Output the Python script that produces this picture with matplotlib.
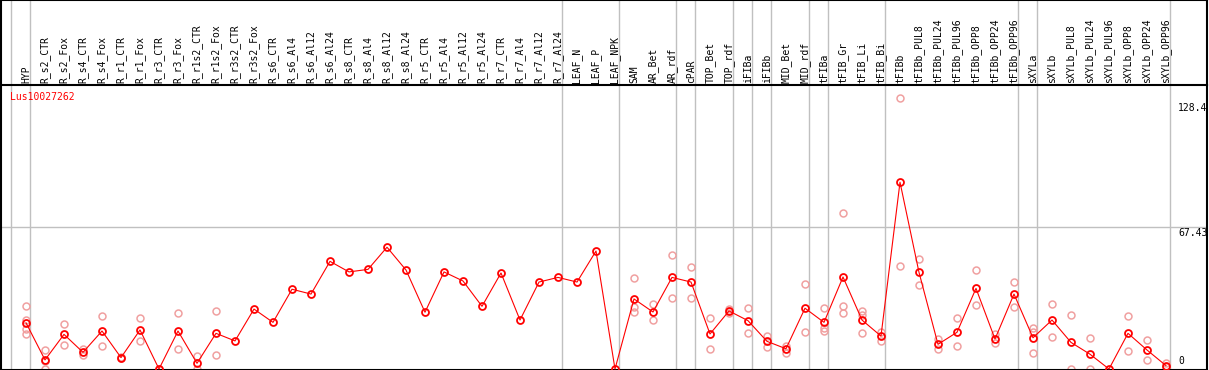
import matplotlib
matplotlib.use("Agg")
import matplotlib.pyplot as plt
import matplotlib.transforms as mtransforms

gene = "Lus10027262"

samples = ["HYP", "R_s2_CTR", "R_s2_Fox", "R_s4_CTR", "R_s4_Fox", "R_r1_CTR", "R_r1_Fox",
           "R_r3_CTR", "R_r3_Fox", "R_r1s2_CTR", "R_r1s2_Fox", "R_r3s2_CTR", "R_r3s2_Fox",
           "R_s6_CTR", "R_s6_Al4", "R_s6_Al12", "R_s6_Al24", "R_s8_CTR", "R_s8_Al4",
           "R_s8_Al12", "R_s8_Al24", "R_r5_CTR", "R_r5_Al4", "R_r5_Al12", "R_r5_Al24",
           "R_r7_CTR", "R_r7_Al4", "R_r7_Al12", "R_r7_Al24", "LEAF_N", "LEAF_P", "LEAF_NPK",
           "SAM", "AR_Bet", "AR_rdf", "cPAR", "TOP_Bet", "TOP_rdf", "iFIBa", "iFIBb",
           "MID_Bet", "MID_rdf", "tFIBa", "tFIB_Gr", "tFIB_Li", "tFIB_Bi", "tFIBb",
           "tFIBb_PUL8", "tFIBb_PUL24", "tFIBb_PUL96", "tFIBb_OPP8", "tFIBb_OPP24",
           "tFIBb_OPP96", "sXYLa", "sXYLb", "sXYLb_PUL8", "sXYLb_PUL24", "sXYLb_PUL96",
           "sXYLb_OPP8", "sXYLb_OPP24", "sXYLb_OPP96"]

means = [21.9, 4.3, 16.4, 7.9, 18.0, 5.4, 18.5, 0.0, 18.0, 2.7, 16.9, 13.3, 28.4,
         22.1, 37.8, 35.5, 51.0, 46.0, 47.2, 57.7, 46.9, 26.9, 46.0, 41.7, 29.7,
         45.5, 23.2, 41.2, 43.4, 41.2, 55.9, 0.0,
         33.2, 27.0, 43.4, 41.2, 16.6, 27.5, 22.9, 13.1, 9.6, 28.8, 22.1, 43.6,
         23.2, 15.6, 88.5, 45.8, 11.7, 17.4, 38.2, 14.2, 35.5, 14.8, 23.2, 12.6,
         7.0, 0.0, 16.9, 9.0, 1.6]

replicates = [[29.9, 23.0, 18.8, 16.6], [9.0, 0.0, 4.0], [21.3, 11.2], [9.3, 6.6],
              [25.0, 10.8], [5.1, 5.8], [24.0, 13.1], [0.0], [26.4, 9.3], [6.2, 0.0],
              [27.5, 6.6], [], [], [], [], [], [], [], [], [], [], [], [], [], [],
              [], [], [], [], [], [], [],
              [43.0, 29.2, 26.9], [30.8, 23.2], [54.0, 33.5], [48.3, 33.5], [24.2, 9.6],
              [28.4, 26.4], [28.8, 16.9], [15.6, 10.6], [11.0, 7.7], [40.1, 17.4],
              [28.8, 19.3, 18.0], [73.9, 29.8, 26.7], [27.6, 25.6, 16.9], [17.7, 13.4],
              [128.4, 48.8], [52.0, 39.8], [14.1, 9.3], [24.0, 10.9], [46.8, 30.2],
              [16.6, 12.2], [41.1, 29.2], [19.3, 7.4, 17.5], [30.8, 15.2], [25.4, 0.0],
              [14.7, 0.0], [], [25.0, 8.5], [13.7, 4.3], [3.0, 0.8]]

# last sample index of each group (vertical separators)
group_ends = [-1, 0, 28, 31, 34, 35, 37, 38, 39, 41, 42, 45, 52, 53, 60]
ytick_vals = [128.4, 67.43, 0]
ytick_labels = ["128.4", "67.43", "0"]

W, H = 1209, 370
fig = plt.figure(figsize=(W / 100, H / 100), dpi=100)

# pixel layout
left_px, right_px = 1, 1207
head_px = 85
x0_px, step_px = 26, 19
zero_px = 369
scale = 2.1106  # px per unit

def fx(p):
    return p / W

def fy(p):
    return 1 - p / H

xlim = ((left_px - x0_px) / step_px, (right_px - x0_px) / step_px)
ylim = ((zero_px - H) / scale, (zero_px - head_px) / scale)

head = fig.add_axes([fx(left_px), fy(head_px), fx(right_px - left_px), head_px / H])
ax = fig.add_axes([fx(left_px), 0, fx(right_px - left_px), (H - head_px) / H])

grey = "#c0c0c0"
mono = "DejaVu Sans Mono"

for a in (head, ax):
    a.set_xlim(*xlim)
    a.set_xticks([])
    a.set_yticks([])
    for s in a.spines.values():
        s.set_color("black")
        s.set_linewidth(1.5)
    for g in group_ends:
        a.axvline(g + 4 / step_px, color=grey, lw=1, zorder=0)

head.set_ylim(0, 1)
head.spines["bottom"].set_visible(False)
for i, name in enumerate(samples):
    head.text(i, 0.025, name, rotation=90, ha="center", va="bottom",
              fontsize=7, family=mono, color="black")

ax.set_ylim(*ylim)
ax.axhline(ytick_vals[1], color=grey, lw=1, zorder=0)

xs = list(range(len(samples)))
rx, ry = [], []
for i, reps in enumerate(replicates):
    for v in reps:
        rx.append(i)
        ry.append(v)
ax.plot(rx, ry, ls="none", marker="o", ms=5, mfc="none", mec="#f0a0a0", mew=1.1, zorder=2)
ax.plot(xs, means, color="red", lw=0.8, zorder=3)
ax.plot(xs, means, ls="none", marker="o", ms=5, mfc="none", mec="red", mew=1.3, zorder=4)

fig.text(fx(10), fy(97), gene, color="red", fontsize=7, family=mono, va="center", ha="left")

trans = mtransforms.blended_transform_factory(ax.transAxes, ax.transData)
offsets = [(-5, "top"), (-1, "top"), (3, "bottom")]
for v, lab, (dy, va) in zip(ytick_vals, ytick_labels, offsets):
    ax.annotate(lab, xy=((1178 - left_px) / (right_px - left_px), v), xycoords=trans,
                xytext=(0, dy), textcoords="offset pixels", ha="left", va=va,
                fontsize=7, family=mono, color="black")

fig.savefig("out.png", dpi=100)
